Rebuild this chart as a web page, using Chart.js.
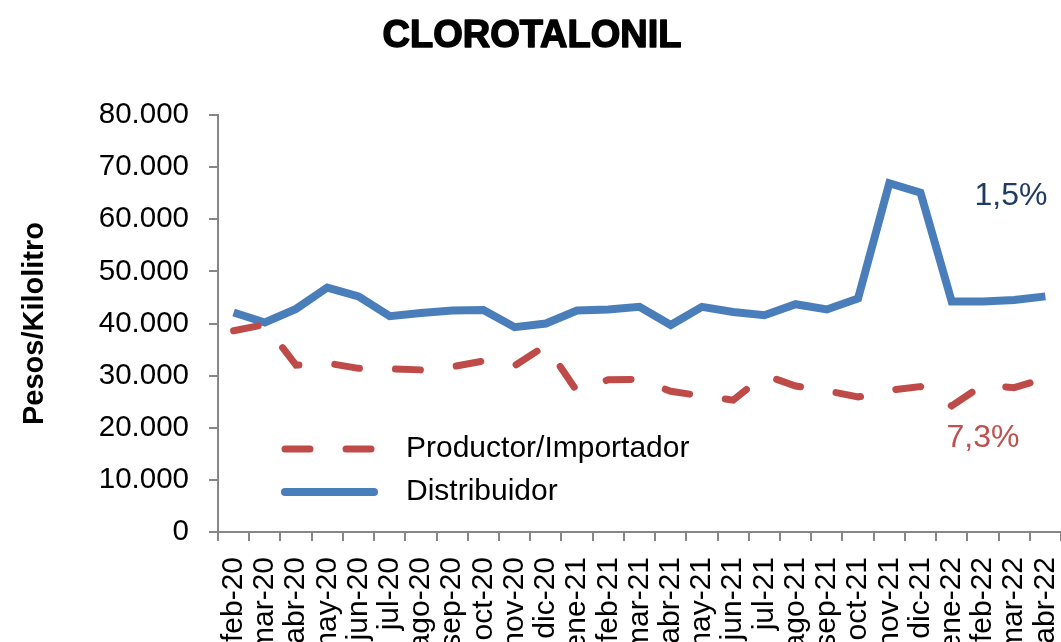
<!DOCTYPE html>
<html>
<head>
<meta charset="utf-8">
<script src="https://cdn.jsdelivr.net/npm/chart.js@4"></script>
<style>
  html, body { margin: 0; padding: 0; background: #fff; overflow: hidden; }
  #wrap { width: 1061px; height: 700px; }
</style>
</head>
<body>
<div id="wrap"><canvas id="chart" width="1061" height="700"></canvas></div>
<script>
// datos
const meses = ['feb-20', 'mar-20', 'abr-20', 'may-20', 'jun-20', 'jul-20', 'ago-20', 'sep-20', 'oct-20',
    'nov-20', 'dic-20', 'ene-21', 'feb-21', 'mar-21', 'abr-21', 'may-21', 'jun-21', 'jul-21', 'ago-21',
    'sep-21', 'oct-21', 'nov-21', 'dic-21', 'ene-22', 'feb-22', 'mar-22', 'abr-22'];
const productor = [38600, 39800, 32000, 32400, 31400, 31300, 31100, 31700, 32800,
    31900, 35800, 27000, 29200, 29300, 27000, 26100, 25300, 30100, 28000,
    27100, 25900, 27200, 27900, 24200, 28200, 27700, 29500];
const distribuidor = [42100, 40200, 42800, 46900, 45200, 41400, 42000, 42500, 42600,
    39300, 40000, 42500, 42700, 43200, 39700, 43200, 42200, 41600, 43700,
    42700, 44800, 66900, 65100, 44200, 44200, 44500, 45200];
const variaciones = ['1,5%', '7,3%'];

const AZUL = '#4A7EBB';
const ROJO = '#BE4B48';
const GRIS = '#868686';
const FUENTE = '"Liberation Sans", Arial, sans-serif';

// titulo, leyenda y etiquetas de variacion
const extras = {
    id: 'extras',
    afterDraw(chart) {
        const ctx = chart.ctx;
        ctx.save();
        ctx.fillStyle = '#000';
        ctx.strokeStyle = '#000';
        ctx.lineWidth = 1.5;
        ctx.lineJoin = 'round';
        ctx.font = 'bold 38px ' + FUENTE;
        ctx.textAlign = 'center';
        ctx.textBaseline = 'middle';
        ctx.fillText('CLOROTALONIL', 532, 37);
        ctx.strokeText('CLOROTALONIL', 532, 37);

        // leyenda
        const items = [
            { texto: 'Productor/Importador', color: ROJO, dash: [25, 36], ancho: 7, y: 449 },
            { texto: 'Distribuidor', color: AZUL, dash: [], ancho: 8, y: 492 }
        ];
        items.forEach(it => {
            ctx.beginPath();
            ctx.strokeStyle = it.color;
            ctx.lineWidth = it.ancho;
            ctx.lineCap = 'round';
            ctx.setLineDash(it.dash);
            ctx.moveTo(285, it.y);
            ctx.lineTo(374, it.y);
            ctx.stroke();
            ctx.setLineDash([]);
            ctx.fillStyle = '#000';
            ctx.font = '30px ' + FUENTE;
            ctx.textAlign = 'left';
            ctx.fillText(it.texto, 406, it.y);
        });

        ctx.font = '32px ' + FUENTE;
        ctx.textAlign = 'center';
        ctx.fillStyle = '#1F3B64';
        ctx.fillText(variaciones[0], 1011, 196);
        ctx.fillStyle = '#C0504D';
        ctx.fillText(variaciones[1], 983, 438);
        ctx.restore();
    }
};

const chart = new Chart(document.getElementById('chart'), {
    type: 'line',
    data: {
        labels: meses,
        datasets: [{
            label: 'Productor/Importador',
            data: productor,
            borderColor: ROJO,
            borderWidth: 7,
            borderDash: [25, 36],
            borderCapStyle: 'round',
            pointRadius: 0,
            tension: 0
        }, {
            label: 'Distribuidor',
            data: distribuidor,
            borderColor: AZUL,
            borderWidth: 8,
            pointRadius: 0,
            tension: 0
        }]
    },
    options: {
        responsive: false,
        devicePixelRatio: 1,
        animation: false,
        layout: { padding: { top: 115, left: 0, right: 0, bottom: 0 } },
        plugins: {
            legend: { display: false },
            tooltip: { enabled: false }
        },
        scales: {
            x: {
                offset: true,
                afterFit(scale) {
                    scale.height = 700 - 532;
                    scale.paddingLeft = 0;
                    scale.paddingRight = 0;
                },
                grid: { offset: true, drawOnChartArea: false, tickLength: 9, color: GRIS, lineWidth: 2 },
                border: { color: GRIS, width: 2 },
                ticks: {
                    color: '#000',
                    font: { family: FUENTE, size: 30 },
                    minRotation: 90,
                    maxRotation: 90,
                    autoSkip: false,
                    padding: 16
                }
            },
            y: {
                min: 0,
                max: 80000,
                afterFit(scale) { scale.width = 218; },
                grid: { drawOnChartArea: false, tickLength: 9, color: GRIS, lineWidth: 2 },
                border: { color: GRIS, width: 2 },
                ticks: {
                    stepSize: 10000,
                    color: '#000',
                    padding: 20,
                    font: { family: FUENTE, size: 29.5 },
                    callback: v => v === 0 ? '0' : v.toString().replace(/\B(?=(\d{3})+(?!\d))/g, '.')
                },
                title: {
                    display: true,
                    text: 'Pesos/Kilolitro',
                    color: '#000',
                    font: { family: FUENTE, size: 29, weight: 'bold' },
                    padding: { top: 18, bottom: 0 }
                }
            }
        }
    },
    plugins: [extras]
});
</script>
</body>
</html>
